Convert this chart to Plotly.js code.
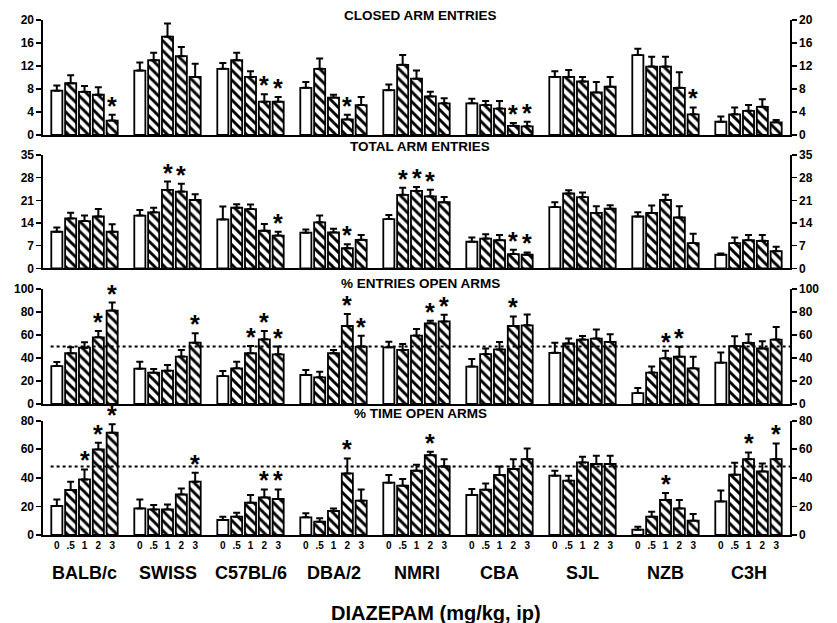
<!DOCTYPE html>
<html>
<head>
<meta charset="utf-8">
<script src="https://cdn.plot.ly/plotly-3.0.1.min.js"></script>
<style>html,body{margin:0;padding:0;background:#fff;}#chart{width:837px;height:623px;}</style>
</head>
<body>
<div id="chart"></div>
<script>
const strains = ['BALB/c','SWISS','C57BL/6','DBA/2','NMRI','CBA','SJL','NZB','C3H'];
const doses = ['0','.5','1','2','3'];

const closedMean = [
 [7.7,9.0,7.5,7.0,2.5],
 [11.2,13.0,17.1,13.7,10.1],
 [11.5,13.0,10.1,5.8,5.8],
 [8.2,11.5,6.5,2.7,5.2],
 [7.8,12.2,9.8,6.7,5.5],
 [5.5,5.2,4.6,1.6,1.5],
 [10.1,10.1,9.3,7.4,8.4],
 [13.9,11.9,11.9,8.2,3.6],
 [2.3,3.6,4.2,4.9,2.2]];
const closedErr = [
 [0.9,1.4,1.0,1.3,1.0],
 [1.4,1.3,2.3,1.6,2.3],
 [1.0,1.3,1.0,1.3,0.8],
 [1.0,1.8,0.5,0.8,1.4],
 [1.0,1.7,1.4,0.8,0.9],
 [0.8,0.7,1.3,0.5,0.8],
 [1.0,1.2,0.8,1.8,1.7],
 [1.1,1.7,1.7,2.7,1.2],
 [0.9,1.2,1.0,1.3,0.4]];
const closedSig = [
 [0,0,0,0,1],[0,0,0,0,0],[0,0,0,1,1],[0,0,0,1,0],[0,0,0,0,0],
 [0,0,0,1,1],[0,0,0,0,0],[0,0,0,0,1],[0,0,0,0,0]];

const totalMean = [
 [11.3,15.4,14.6,16.0,11.3],
 [16.3,17.3,24.2,23.7,21.1],
 [15.1,18.7,18.3,11.6,10.1],
 [11.0,14.2,11.1,6.2,8.8],
 [15.2,22.7,23.9,22.2,20.4],
 [8.2,9.2,8.7,4.4,4.2],
 [18.9,23.1,22.0,17.1,18.4],
 [16.0,17.1,21.1,15.7,7.8],
 [4.2,7.8,8.7,8.5,5.3]];
const totalErr = [
 [1.3,1.8,1.7,2.3,2.3],
 [1.7,1.4,2.6,2.4,1.8],
 [4.0,1.1,1.4,2.1,1.2],
 [1.0,2.1,1.1,1.2,1.5],
 [1.3,2.2,1.2,2.1,1.6],
 [1.3,1.3,1.6,1.3,0.7],
 [1.5,1.0,1.4,2.1,1.1],
 [1.3,2.3,1.6,3.5,2.9],
 [0.4,1.7,1.6,1.8,1.4]];
const totalSig = [
 [0,0,0,0,0],[0,0,1,1,0],[0,0,0,0,1],[0,0,0,1,0],[0,1,1,1,0],
 [0,0,0,1,1],[0,0,0,0,0],[0,0,0,0,0],[0,0,0,0,0]];

const entriesMean = [
 [33.0,44.1,49.0,58.0,81.2],
 [30.7,27.2,29.0,41.2,53.3],
 [24.3,31.0,44.1,56.2,43.2],
 [25.2,23.2,44.1,67.8,49.9],
 [49.3,47.0,59.5,70.1,71.8],
 [32.5,43.4,47.4,67.8,68.4],
 [44.5,52.6,56.0,56.9,54.0],
 [9.5,27.3,39.7,41.1,31.0],
 [35.9,50.3,53.2,48.3,56.0]];
const entriesErr = [
 [3.5,5.2,4.6,5.5,7.0],
 [6.1,3.2,4.9,5.8,8.1],
 [4.4,5.8,6.3,7.3,6.7],
 [4.4,4.9,2.9,10.5,9.5],
 [4.9,5.2,5.7,2.3,5.8],
 [6.6,4.9,6.6,8.3,9.5],
 [8.7,4.3,3.2,7.8,6.6],
 [4.3,5.2,6.6,8.6,10.1],
 [8.9,8.6,7.4,6.3,11.0]];
const entriesSig = [
 [0,0,0,1,1],[0,0,0,0,1],[0,0,1,1,1],[0,0,0,1,1],[0,0,0,1,1],
 [0,0,0,1,0],[0,0,0,0,0],[0,0,1,1,0],[0,0,0,0,0]];

const timeMean = [
 [20.3,31.5,38.9,59.9,71.6],
 [18.6,17.9,17.9,28.4,37.3],
 [10.5,12.8,22.6,26.3,25.2],
 [12.4,9.3,16.8,43.1,24.0],
 [36.6,34.5,45.0,55.9,48.0],
 [28.0,31.7,42.0,46.2,53.1],
 [41.5,38.0,50.8,49.7,49.7],
 [3.7,12.8,24.5,18.6,10.0],
 [23.5,42.2,53.1,44.5,53.1]];
const timeErr = [
 [4.6,5.8,7.0,4.7,6.0],
 [6.3,3.1,3.5,4.2,6.3],
 [2.3,2.8,5.4,5.6,6.7],
 [2.8,2.4,1.8,10.5,7.9],
 [5.4,4.7,4.2,2.4,5.1],
 [4.2,4.4,6.0,6.9,7.5],
 [3.5,3.5,4.0,5.8,5.8],
 [2.1,3.5,4.9,5.9,4.7],
 [7.7,8.4,4.7,5.6,11.0]];
const timeSig = [
 [0,0,1,1,1],[0,0,0,0,1],[0,0,0,1,1],[0,0,0,1,0],[0,0,0,1,0],
 [0,0,0,0,0],[0,0,0,0,0],[0,0,1,0,0],[0,0,1,0,1]];

const panelTitles = ['CLOSED ARM ENTRIES','TOTAL ARM ENTRIES','% ENTRIES OPEN ARMS','% TIME OPEN ARMS'];
const panelMax = [20, 35, 100, 80];
const panelStep = [4, 7, 20, 20];
const refLevel = [null, null, 50, 48];
const xAxisTitle = 'DIAZEPAM (mg/kg, ip)';

// ---- build ----
const means = [closedMean, totalMean, entriesMean, timeMean];
const errs = [closedErr, totalErr, entriesErr, timeErr];
const sigs = [closedSig, totalSig, entriesSig, timeSig];

const FONT = 'Liberation Sans, Arial, Helvetica, sans-serif';
const slot = 6; // 5 bars + 1 gap per strain
const xs = [], xTickText = [];
strains.forEach((s, i) => doses.forEach((d, j) => { xs.push(i * slot + j); xTickText.push(d); }));
const xRange = [-1, strains.length * slot - 1];

const domains = [[0.7767, 1.0], [0.5178, 0.7379], [0.2544, 0.4777], [0, 0.2219]];
const titleY = [1.0078, 0.7534, 0.4893, 0.235];

const data = [];
const layout = {
  width: 837, height: 623,
  margin: {l: 43, r: 47, t: 20, b: 88},
  paper_bgcolor: '#fff', plot_bgcolor: 'rgba(0,0,0,0)',
  showlegend: false, bargap: 0,
  font: {family: FONT, color: '#000'},
  annotations: [], shapes: []
};

for (let p = 0; p < 4; p++) {
  const n = p + 1;
  const xa = 'x' + (n === 1 ? '' : n), ya = 'y' + (n === 1 ? '' : n);
  const yr = 'y' + (n + 4);
  const ys = means[p].flat(), es = errs[p].flat(), sg = sigs[p].flat();
  data.push({
    type: 'bar', x: xs, y: ys, xaxis: xa, yaxis: ya, width: 0.8,
    marker: {
      color: '#fff',
      line: {color: '#000', width: 1.8},
      pattern: {shape: xs.map((x, k) => (k % 5 === 0 ? '' : '\\')), fgcolor: '#000', bgcolor: '#fff', size: 7, solidity: 0.42}
    },
    error_y: {type: 'data', symmetric: false, array: es, arrayminus: es.map(() => 0), color: '#000', thickness: 2, width: 3.5},
    hoverinfo: 'skip'
  });
  // invisible trace to carry the right-hand axis
  data.push({type: 'scatter', mode: 'markers', x: xs, y: ys, xaxis: xa, yaxis: yr, marker: {opacity: 0}, hoverinfo: 'skip'});

  const axKey = 'xaxis' + (n === 1 ? '' : n);
  const xaObj = {
    domain: [0, 1], anchor: ya, range: xRange, showgrid: false, zeroline: false,
    showline: true, linecolor: '#000', linewidth: 1.6, ticks: '', fixedrange: true,
    showticklabels: false
  };
  if (p === 3) {
    Object.assign(xaObj, {showticklabels: true, tickmode: 'array', tickvals: xs, ticktext: xTickText,
      tickfont: {family: FONT, size: 10, color: '#000', weight: 'bold'}});
  }
  if (p > 0) xaObj.matches = 'x';
  layout[axKey] = xaObj;

  const yCommon = {
    domain: domains[p], range: [0, panelMax[p]], dtick: panelStep[p], tick0: 0,
    showgrid: false, zeroline: false, showline: true, linecolor: '#000', linewidth: 1.6,
    ticks: 'outside', ticklen: 5, tickwidth: 1.6, tickcolor: '#000',
    tickfont: {family: FONT, size: 12, color: '#000', weight: 'bold'}, fixedrange: true
  };
  layout['yaxis' + (n === 1 ? '' : n)] = Object.assign({}, yCommon, {anchor: xa, side: 'left'});
  layout['yaxis' + (n + 4)] = Object.assign({}, yCommon, {anchor: xa, side: 'right', overlaying: ya});

  layout.annotations.push({
    xref: 'paper', yref: 'paper', x: 0.505, y: titleY[p], xanchor: 'center', yanchor: 'middle',
    text: '<b>' + panelTitles[p] + '</b>', showarrow: false, font: {family: FONT, size: 13.5, color: '#000'}
  });

  sg.forEach((s, k) => {
    if (s) layout.annotations.push({
      xref: xa, yref: ya, x: xs[k], y: ys[k] + es[k], xanchor: 'center', yanchor: 'bottom',
      yshift: -7, text: '<b>*</b>', showarrow: false, font: {family: FONT, size: 25, color: '#000'}
    });
  });

  if (refLevel[p] !== null) {
    layout.shapes.push({type: 'line', xref: xa, yref: ya, x0: -0.45, x1: xRange[1], y0: refLevel[p], y1: refLevel[p],
      line: {color: '#000', width: 2, dash: 'dot'}, layer: 'above'});
  }
}

strains.forEach((s, i) => {
  layout.annotations.push({
    xref: 'x4', yref: 'paper', x: i * slot + 2, y: -0.0738, xanchor: 'center', yanchor: 'middle',
    text: '<b>' + s + '</b>', showarrow: false, font: {family: FONT, size: 18, color: '#000'}
  });
});
layout.annotations.push({
  xref: 'paper', yref: 'paper', x: 0.526, y: -0.151, xanchor: 'center', yanchor: 'middle',
  text: '<b>' + xAxisTitle + '</b>', showarrow: false, font: {family: FONT, size: 20, color: '#000'}
});

Plotly.newPlot('chart', data, layout, {displayModeBar: false, staticPlot: true});
</script>
</body>
</html>
